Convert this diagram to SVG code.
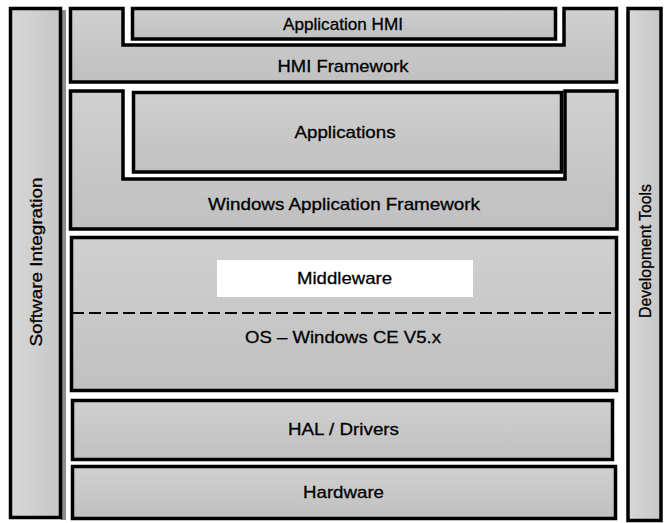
<svg xmlns="http://www.w3.org/2000/svg" width="668" height="523" viewBox="0 0 668 523">
  <defs>
    <linearGradient id="layerFill" x1="0" y1="0" x2="0" y2="1">
      <stop offset="0" stop-color="#d0d0d0"/>
      <stop offset="1" stop-color="#c0c0c0"/>
    </linearGradient>
    <linearGradient id="sideFill" x1="0" y1="0" x2="1" y2="0">
      <stop offset="0" stop-color="#d8d8d8"/>
      <stop offset="1" stop-color="#c6c6c6"/>
    </linearGradient>
  </defs>
  <style>
    .box { fill: url(#layerFill); stroke: #000; stroke-width: 3.5; }
    .side { fill: url(#sideFill); stroke: #000; stroke-width: 3.5; }
    .shadow { fill: #8e8e8e; }
    .lbl { font-family: "Liberation Sans", Arial, sans-serif; font-size: 17px; fill: #000; stroke: #000; stroke-width: 0.3; text-anchor: middle; }
  </style>
  <rect width="668" height="523" fill="#fff"/>

  <!-- side columns -->
  <g id="software-integration">
    <rect class="shadow" x="61" y="10" width="5" height="510"/>
    <rect class="side" x="10.5" y="8.5" width="50" height="509"/>
    <text class="lbl" transform="translate(42,262) rotate(-90)" textLength="169" lengthAdjust="spacingAndGlyphs">Software Integration</text>
  </g>
  <g id="development-tools">
    <rect class="side" x="628" y="8.5" width="33" height="512"/>
    <text class="lbl" transform="translate(651,251) rotate(-90)" textLength="134" lengthAdjust="spacingAndGlyphs">Development Tools</text>
  </g>

  <!-- HMI stack -->
  <g id="hmi-framework">
    <path class="box" d="M70.5,8.5 H123 V45 H564 V8.5 H616.5 V82 H70.5 Z"/>
    <text class="lbl" x="343" y="72" textLength="131" lengthAdjust="spacingAndGlyphs">HMI Framework</text>
  </g>
  <g id="application-hmi">
    <rect class="box" x="132.5" y="8.5" width="423" height="30.5"/>
    <text class="lbl" x="343" y="30" textLength="120" lengthAdjust="spacingAndGlyphs">Application HMI</text>
  </g>

  <!-- Windows application stack -->
  <g id="windows-application-framework">
    <path class="box" d="M70.5,91 H123 V179 H565 V91 H617 V229 H70.5 Z"/>
    <text class="lbl" x="344" y="210" textLength="272" lengthAdjust="spacingAndGlyphs">Windows Application Framework</text>
  </g>
  <g id="applications">
    <rect class="box" x="133.5" y="92.5" width="428" height="79.5"/>
    <text class="lbl" x="345" y="138" textLength="101" lengthAdjust="spacingAndGlyphs">Applications</text>
  </g>

  <!-- OS with middleware -->
  <g id="os-windows-ce">
    <rect class="box" x="71.5" y="237.5" width="545" height="153"/>
    <line x1="72" y1="313" x2="615" y2="313" stroke="#000" stroke-width="2.2" stroke-dasharray="12 5"/>
    <text class="lbl" x="343" y="343" textLength="196" lengthAdjust="spacingAndGlyphs">OS – Windows CE V5.x</text>
  </g>
  <g id="middleware">
    <rect x="217" y="260" width="256" height="37" fill="#fff"/>
    <text class="lbl" x="344.5" y="284" textLength="95" lengthAdjust="spacingAndGlyphs">Middleware</text>
  </g>

  <!-- lower layers -->
  <g id="hal-drivers">
    <rect class="box" x="72.5" y="400.5" width="540" height="59"/>
    <text class="lbl" x="343.5" y="435" textLength="111" lengthAdjust="spacingAndGlyphs">HAL / Drivers</text>
  </g>
  <g id="hardware">
    <rect class="box" x="72.5" y="466.5" width="543" height="52"/>
    <text class="lbl" x="343.5" y="498" textLength="81" lengthAdjust="spacingAndGlyphs">Hardware</text>
  </g>

  <g id="connectors"/>
</svg>
